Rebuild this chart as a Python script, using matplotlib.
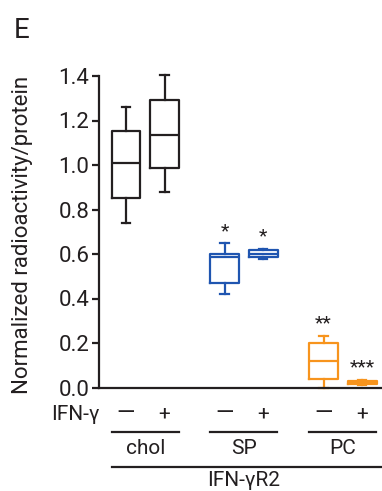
import matplotlib
matplotlib.use("Agg")
import matplotlib.pyplot as plt
import matplotlib.transforms as mtransforms

plt.rcParams['font.family'] = ['Roboto', 'DejaVu Sans']

# ----------------- data -----------------
groups = ["chol", "SP", "PC"]
ifn_labels = ["\u2014", "+"]
box_labels = ["chol -", "chol +", "SP -", "SP +", "PC -", "PC +"]
whislo = [0.739, 0.877, 0.420, 0.578, 0.000, 0.012]
q1 = [0.850, 0.986, 0.468, 0.587, 0.037, 0.017]
med = [1.010, 1.133, 0.588, 0.600, 0.119, 0.023]
q3 = [1.153, 1.292, 0.600, 0.617, 0.201, 0.028]
whishi = [1.259, 1.403, 0.648, 0.624, 0.233, 0.032]
stars = ["", "", "*", "*", "**", "***"]
star_y = [None, None, 0.70, 0.68, 0.29, 0.09]

colors = ["#231f20", "#231f20", "#1f55b0", "#1f55b0", "#f7941d", "#f7941d"]
positions = [0, 1, 2.56, 3.56, 5.13, 6.13]

W, H = 382, 491
fig = plt.figure(figsize=(W / 100, H / 100), dpi=100)
ax = fig.add_axes([99 / W, 1 - 387.5 / H, (388 - 99) / W, (387.5 - 76) / H])

stats = []
for i in range(len(box_labels)):
    stats.append(dict(label=box_labels[i], whislo=whislo[i], q1=q1[i], med=med[i],
                      q3=q3[i], whishi=whishi[i], fliers=[]))

for i, s in enumerate(stats):
    c = colors[i]
    lp = dict(color=c, linewidth=1.6)
    ax.bxp([s], positions=[positions[i]], widths=0.75, capwidths=0.22,
           showfliers=False, boxprops=lp, whiskerprops=lp, capprops=lp,
           medianprops=lp, manage_ticks=False)
    if stars[i]:
        ax.text(positions[i], star_y[i], stars[i], ha="center", va="center",
                fontsize=14, color="#231f20")

for art in ax.lines:
    art.set_clip_on(False)

ax.set_xlim(-0.70, 6.80)
ax.set_ylim(0, 1.4)
ax.set_yticks([0, 0.2, 0.4, 0.6, 0.8, 1.0, 1.2, 1.4])
ax.set_yticklabels(["0.0", "0.2", "0.4", "0.6", "0.8", "1.0", "1.2", "1.4"])
ax.set_xticks([])
for side in ["top", "right"]:
    ax.spines[side].set_visible(False)
for side in ["left", "bottom"]:
    ax.spines[side].set_linewidth(1.6)
    ax.spines[side].set_color("#231f20")
ax.tick_params(axis="y", length=5, width=1.6, labelsize=16, colors="#231f20", pad=2)

fig.text(23 / W, 1 - 235 / H, "Normalized radioactivity/protein", rotation=90,
         ha="center", va="center", fontsize=16, color="#231f20")
fig.text(14 / W, 1 - 31 / H, "E", ha="left", va="center", fontsize=20, color="#231f20")

# ----------------- bottom annotation -----------------
tr = mtransforms.blended_transform_factory(ax.transData, fig.transFigure)
ax.text(-0.70, 1 - 414 / H, "IFN-\u03b3", transform=tr, ha="right", va="center",
        fontsize=15, color="#231f20")
for g in range(len(groups)):
    p0 = positions[2 * g]
    p1 = positions[2 * g + 1]
    ax.text(p0, 1 - 414 / H, ifn_labels[0], transform=tr, ha="center", va="center",
            fontsize=17, color="#231f20")
    ax.text(p1, 1 - 414 / H, ifn_labels[1], transform=tr, ha="center", va="center",
            fontsize=15, color="#231f20")
    ax.plot([p0 - 0.37, p1 + 0.37], [1 - 431.7 / H] * 2, transform=tr,
            color="#231f20", lw=1.6, clip_on=False)
    ax.text((p0 + p1) / 2, 1 - 448 / H, groups[g], transform=tr, ha="center",
            va="center", fontsize=15, color="#231f20")

ax.plot([positions[0] - 0.37, 7.0], [1 - 467 / H] * 2, transform=tr,
        color="#231f20", lw=1.6, clip_on=False)
ax.text(3.05, 1 - 481 / H, "IFN-\u03b3R2", transform=tr, ha="center", va="center",
        fontsize=15, color="#231f20")

fig.savefig("out.png", dpi=100)
